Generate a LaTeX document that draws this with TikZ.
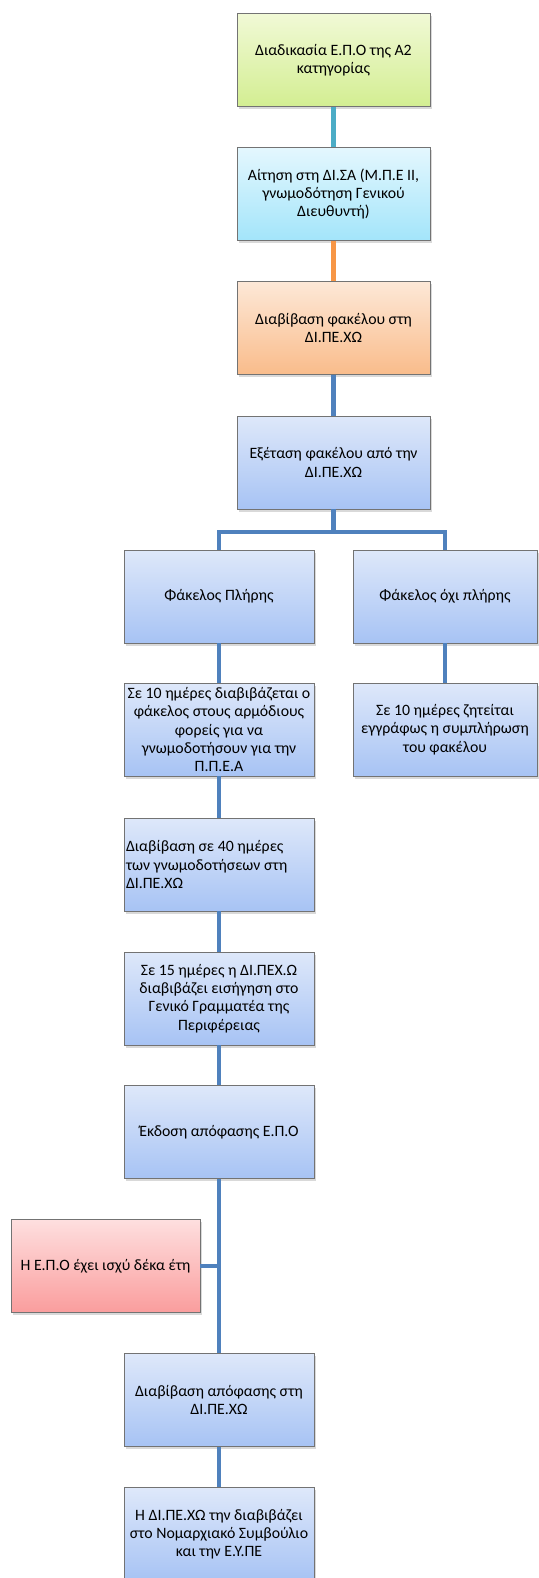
\documentclass[tikz,border=0pt]{standalone}
\usepackage{fontspec}
\setmainfont{Carlito}
\usepackage{xcolor}
\usetikzlibrary{shadows}
\definecolor{linkblue}{HTML}{4F81BD}
\definecolor{linkteal}{HTML}{4BACC6}
\definecolor{linkorange}{HTML}{F79646}
\definecolor{greentop}{HTML}{F1F9D6}
\definecolor{greenbot}{HTML}{D3EE92}
\definecolor{cyantop}{HTML}{E4F7FE}
\definecolor{cyanbot}{HTML}{A3E5FA}
\definecolor{orangetop}{HTML}{FDE8D7}
\definecolor{orangebot}{HTML}{F9BC8B}
\definecolor{bluetop}{HTML}{DEE8FA}
\definecolor{bluebot}{HTML}{A7C3F4}
\definecolor{redtop}{HTML}{FEDFDF}
\definecolor{redbot}{HTML}{FA9D9D}

\begin{document}
\begin{tikzpicture}[x=1pt,y=-1pt,
  box/.style={draw=black!55,line width=0.6pt,minimum height=93pt,inner xsep=2pt,inner ysep=1pt,
    align=center,font=\fontsize{15.8}{18.3}\selectfont,
    drop shadow={shadow xshift=1.5pt,shadow yshift=-2.5pt,opacity=0.3}},
  greenbox/.style={box,top color=greentop,bottom color=greenbot},
  cyanbox/.style={box,top color=cyantop,bottom color=cyanbot},
  orangebox/.style={box,top color=orangetop,bottom color=orangebot},
  bluebox/.style={box,top color=bluetop,bottom color=bluebot},
  redbox/.style={box,top color=redtop,bottom color=redbot},
  link/.style={line width=4.8pt,linkblue}]
  \useasboundingbox (0,0) rectangle (538,1578);
  % main column
  \node[greenbox,minimum width=193pt] (apply) at (333.5,60){Διαδικασία Ε.Π.Ο της Α2\\κατηγορίας};
  \node[cyanbox,minimum width=193pt] (disa) at (333.5,194){Αίτηση στη ΔΙ.ΣΑ (Μ.Π.Ε ΙΙ,\\γνωμοδότηση Γενικού\\Διευθυντή)};
  \node[orangebox,minimum width=193pt] (forward) at (333.5,328){Διαβίβαση φακέλου στη\\ΔΙ.ΠΕ.ΧΩ};
  \node[bluebox,minimum width=193pt] (exam) at (333.5,462.5){Εξέταση φακέλου από την\\ΔΙ.ΠΕ.ΧΩ};
  % two branches
  \node[bluebox,minimum width=190pt] (full) at (219,596.5){Φάκελος Πλήρης};
  \node[bluebox,minimum width=184pt] (notfull) at (445,596.5){Φάκελος όχι πλήρης};
  \node[bluebox,minimum width=190pt] (opinions) at (219,729.5){Σε 10 ημέρες διαβιβάζεται ο\\φάκελος στους αρμόδιους\\φορείς για να\\γνωμοδοτήσουν για την\\Π.Π.Ε.Α};
  \node[bluebox,minimum width=184pt] (complete) at (445,729.5){Σε 10 ημέρες ζητείται\\εγγράφως η συμπλήρωση\\του φακέλου};
  \node[bluebox,text width=186pt,align=flush left] (forty) at (219,864.5){Διαβίβαση σε 40 ημέρες\\των γνωμοδοτήσεων στη\\ΔΙ.ΠΕ.ΧΩ};
  \node[bluebox,minimum width=190pt] (fifteen) at (219,998.5){Σε 15 ημέρες η ΔΙ.ΠΕΧ.Ω\\διαβιβάζει εισήγηση στο\\Γενικό Γραμματέα της\\Περιφέρειας};
  \node[bluebox,minimum width=190pt] (decision) at (219,1132){Έκδοση απόφασης Ε.Π.Ο};
  \node[redbox,minimum width=189pt] (valid) at (105.5,1266){Η Ε.Π.Ο έχει ισχύ δέκα έτη};
  \node[bluebox,minimum width=190pt] (send) at (219,1400){Διαβίβαση απόφασης στη\\ΔΙ.ΠΕ.ΧΩ};
  \node[bluebox,minimum width=190pt] (council) at (219,1534){Η ΔΙ.ΠΕ.ΧΩ την διαβιβάζει\\στο Νομαρχιακό Συμβούλιο\\και την Ε.Υ.ΠΕ};
  % connectors
  \draw[link,linkteal] (apply) -- (disa);
  \draw[link,linkorange] (disa) -- (forward);
  \draw[link] (forward) -- (exam);
  \coordinate (split) at (333.5,532);
  \draw[link] (exam) -- (split) -| (full.north);
  \draw[link] (split) -| (notfull.north);
  \draw[link] (full) -- (opinions);
  \draw[link] (notfull) -- (complete);
  \draw[link] (opinions) -- (forty);
  \draw[link] (forty) -- (fifteen);
  \draw[link] (fifteen) -- (decision);
  \draw[link] (decision) -- (send);
  \draw[link] (valid.east) -- (decision.south |- valid.east);
  \draw[link] (send) -- (council);
\end{tikzpicture}
\end{document}
